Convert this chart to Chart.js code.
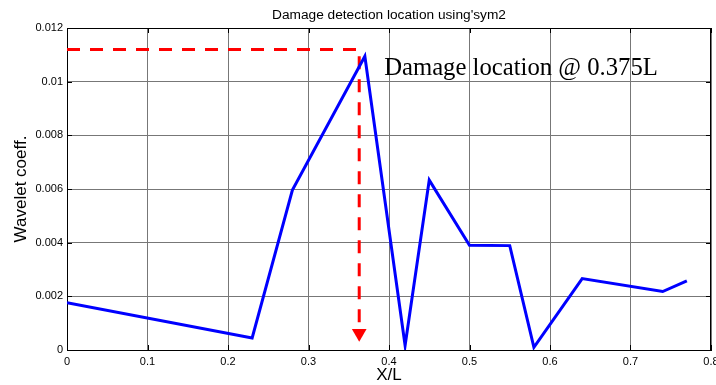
<!DOCTYPE html>
<html>
<head>
<meta charset="utf-8">
<script src="https://cdn.jsdelivr.net/npm/chart.js@4/dist/chart.umd.min.js"></script>
<style>
  html, body { margin: 0; padding: 0; background: #fff; }
  #wrap { width: 716px; height: 385px; }
</style>
</head>
<body>
<div id="wrap"><canvas id="dwtChart" width="716" height="385"></canvas></div>
<script>
// detail coefficients of the deflection signal along the beam
const xPos  = [0, 0.23, 0.28, 0.37, 0.42, 0.45, 0.5, 0.55, 0.58, 0.64, 0.74, 0.77];
const coeff = [0.00176, 0.00045, 0.00596, 0.01095, 0.00017, 0.00633, 0.0039, 0.00389, 0.0001, 0.00266, 0.00218, 0.00258];

// red dashed pointer to the detected location
const markerX = 0.363;
const markerTop = 0.0112;
const markerEnd = 0.00085;
const arrowY = 0.00062;

const xTicks = [0, 0.1, 0.2, 0.3, 0.4, 0.5, 0.6, 0.7, 0.8];
const yTicks = [0, 0.002, 0.004, 0.006, 0.008, 0.01, 0.012];

const titleText = "Damage detection location using'sym2";
const noteText = 'Damage location @ 0.375L';
const noteX = 0.394;
const noteY = 0.01024;

const SANS = '"Liberation Sans", Arial, sans-serif';
const SERIF = '"Liberation Serif", "Times New Roman", serif';

const fmt = v => String(parseFloat(Number(v).toFixed(4)));

// box, inward tick marks, title and annotation (matlab style)
const framePlugin = {
  id: 'frame',
  afterDraw(chart) {
    const { ctx, chartArea: a, scales: { x, y } } = chart;
    ctx.save();
    ctx.strokeStyle = '#000';
    ctx.lineWidth = 1;
    ctx.beginPath();
    ctx.moveTo(a.left, a.top + 0.5);
    ctx.lineTo(a.right, a.top + 0.5);
    ctx.moveTo(a.right - 0.5, a.top);
    ctx.lineTo(a.right - 0.5, a.bottom);
    xTicks.forEach(v => {
      const px = Math.round(x.getPixelForValue(v)) + 0.5;
      ctx.moveTo(px, a.bottom); ctx.lineTo(px, a.bottom - 5);
      ctx.moveTo(px, a.top); ctx.lineTo(px, a.top + 5);
    });
    yTicks.forEach(v => {
      const py = Math.round(y.getPixelForValue(v)) + 0.5;
      ctx.moveTo(a.left, py); ctx.lineTo(a.left + 5, py);
      ctx.moveTo(a.right, py); ctx.lineTo(a.right - 5, py);
    });
    ctx.stroke();

    ctx.fillStyle = '#000';
    ctx.font = '13.7px ' + SANS;
    ctx.textAlign = 'center';
    ctx.textBaseline = 'alphabetic';
    ctx.fillText(titleText, (a.left + a.right) / 2, 19);

    ctx.font = '24.7px ' + SERIF;
    ctx.textAlign = 'left';
    ctx.fillText(noteText, x.getPixelForValue(noteX), y.getPixelForValue(noteY));
    ctx.restore();
  }
};

const gridStyle = { color: '#777', lineWidth: 1, drawTicks: false, borderDash: [1, 1] };

new Chart(document.getElementById('dwtChart'), {
  type: 'scatter',
  data: {
    datasets: [
      {
        label: 'coeff',
        data: xPos.map((v, i) => ({ x: v, y: coeff[i] })),
        showLine: true,
        borderColor: '#0000ff',
        borderWidth: 3,
        pointRadius: 0
      },
      {
        label: 'pointer',
        data: [
          { x: 0, y: markerTop },
          { x: markerX, y: markerTop },
          { x: markerX, y: markerEnd }
        ],
        showLine: true,
        borderColor: '#ff0000',
        borderWidth: 3,
        borderDash: [13, 10],
        pointRadius: 0
      },
      {
        label: 'arrow',
        data: [{ x: markerX, y: arrowY }],
        pointStyle: 'triangle',
        rotation: 180,
        pointRadius: 8.5,
        backgroundColor: '#ff0000',
        borderWidth: 0
      }
    ]
  },
  options: {
    responsive: false,
    animation: false,
    events: [],
    layout: { autoPadding: false, padding: { top: 28, right: 5, left: 0, bottom: 0 } },
    plugins: {
      legend: { display: false },
      title: { display: false },
      tooltip: { enabled: false }
    },
    scales: {
      x: {
        type: 'linear',
        min: 0,
        max: 0.8,
        afterBuildTicks: s => { s.ticks = xTicks.map(v => ({ value: v })); },
        afterFit: s => { s.height = 35; s.paddingLeft = 0; s.paddingRight = 0; },
        ticks: { callback: fmt, color: '#000', padding: 5, maxRotation: 0, autoSkip: false, font: { family: SANS, size: 11 } },
        grid: gridStyle,
        border: { display: true, color: '#000', width: 1 },
        title: { display: true, text: 'X/L', color: '#000', font: { family: SANS, size: 17, lineHeight: 1 }, padding: { top: 0, bottom: 1 } }
      },
      y: {
        type: 'linear',
        min: 0,
        max: 0.012,
        afterBuildTicks: s => { s.ticks = yTicks.map(v => ({ value: v })); },
        afterFit: s => { s.width = 67; s.paddingTop = 0; s.paddingBottom = 0; },
        ticks: { callback: fmt, color: '#000', padding: 4, autoSkip: false, font: { family: SANS, size: 11 } },
        grid: gridStyle,
        border: { display: true, color: '#000', width: 1 },
        title: { display: true, text: 'Wavelet coeff.', color: '#000', font: { family: SANS, size: 17, lineHeight: 1 }, padding: { top: 13, bottom: 0 } }
      }
    }
  },
  plugins: [framePlugin]
});
</script>
</body>
</html>
